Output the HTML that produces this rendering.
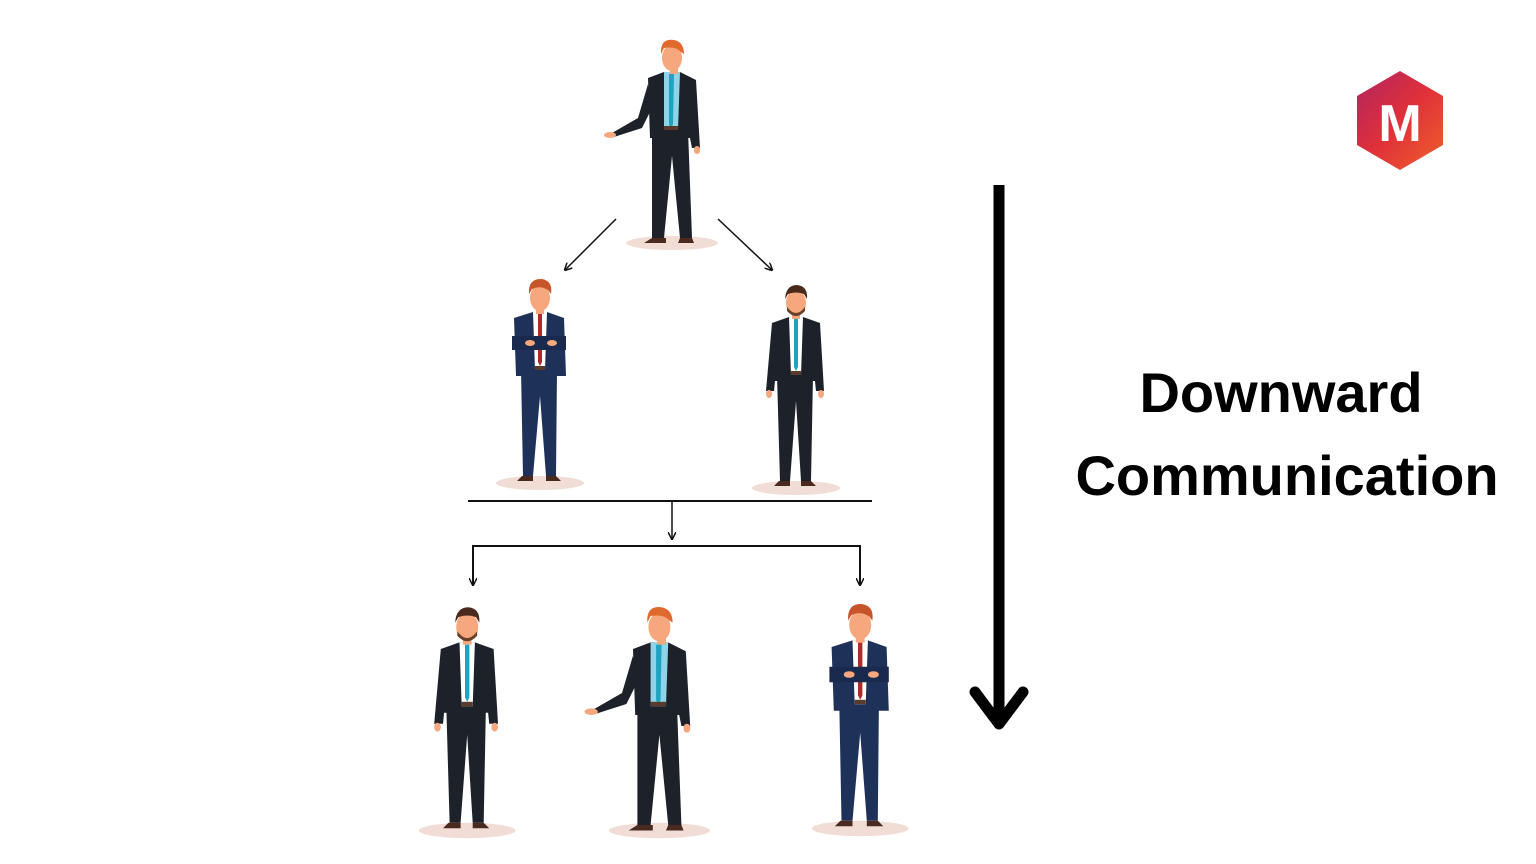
<!DOCTYPE html>
<html><head><meta charset="utf-8"><style>
html,body{margin:0;padding:0;background:#fff;width:1536px;height:864px;overflow:hidden}
svg{display:block}
</style></head><body>
<svg width="1536" height="864" viewBox="0 0 1536 864" xmlns="http://www.w3.org/2000/svg">
<defs>
<linearGradient id="lg" x1="0" y1="0" x2="1" y2="1">
<stop offset="0" stop-color="#b0245e"/><stop offset="0.5" stop-color="#e0303a"/><stop offset="1" stop-color="#f0602a"/>
</linearGradient>
<marker id="ah" markerWidth="8" markerHeight="8" refX="7" refY="4" orient="auto" markerUnits="userSpaceOnUse">
<path d="M0,0 L8,4 L0,8" fill="none" stroke="#111" stroke-width="1.5"/>
</marker>
<!-- pointing person, black suit -->
<g id="pPoint">
<ellipse cx="4" cy="205" rx="46" ry="7" fill="#f1ddd6"/>
<path d="M-16,92 L20,92 L24,200 L12,200 L4,118 L-4,200 L-16,200 Z" fill="#1d2129"/>
<path d="M-16,200 L-2,200 L-2,205 L-24,205 Z M12,200 L24,200 L26,205 L10,205Z" fill="#4a2a1e"/>
<path d="M-20,40 L-4,34 L12,34 L28,42 L32,110 L24,110 L22,100 L-18,100 Z" fill="#1d2129"/>
<path d="M-20,46 L-30,80 L-56,95 L-54,99 L-26,90 L-16,70Z" fill="#1d2129"/>
<ellipse cx="-58" cy="97" rx="6" ry="3" fill="#f6a77d"/>
<path d="M-4,34 L12,34 L10,92 L-4,92 Z" fill="#8fd3e8"/>
<path d="M1,36 L6,36 L5,86 L3,92 L1,86 Z" fill="#1fa3c0"/>
<rect x="-4" y="88" width="14" height="4" fill="#5a3a2a"/>
<rect x="2" y="24" width="8" height="12" fill="#f6a77d"/>
<ellipse cx="4" cy="20" rx="10" ry="13" fill="#f6a77d"/>
<path d="M-7,16 Q-8,0 6,2 Q16,4 16,16 L13,14 Q8,8 -4,10 Z" fill="#e0692e"/>
<rect x="26" y="108" width="6" height="8" rx="3" fill="#f6a77d"/>
</g>
<!-- standing person -->
<g id="pStand">
<ellipse cx="2" cy="205" rx="44" ry="7" fill="#f1ddd6"/>
<path d="M-17,92 L19,92 L17,198 L7,198 L2,118 L-4,198 L-14,198 Z" fill="#1d2129"/>
<path d="M-15,198 L-4,198 L-4,203 L-20,203 Z M7,198 L17,198 L22,203 L7,203Z" fill="#4a2a1e"/>
<path d="M-22,40 L-5,34 L9,34 L26,40 L30,108 L22,108 L21,98 L-19,98 L-20,108 L-28,108 Z" fill="#1d2129"/>
<path d="M-5,34 L9,34 L7,92 L-3,92 Z" fill="#ffffff"/>
<path d="M0,36 L4,36 L4,84 L2,88 L0,84 Z" fill="#1fa3c0"/>
<rect x="-3" y="88" width="10" height="4" fill="#5a3a2a"/>
<ellipse cx="-25" cy="111" rx="3" ry="4" fill="#f6a77d"/><ellipse cx="27" cy="111" rx="3" ry="4" fill="#f6a77d"/>
<rect x="-2" y="24" width="8" height="12" fill="#f6a77d"/>
<ellipse cx="2" cy="20" rx="10" ry="13" fill="#f6a77d"/>
<path d="M-7,24 Q2,36 11,24 L11,28 Q2,38 -7,28Z" fill="#6b4028"/>
<path d="M-9,16 Q-8,2 3,2 Q14,3 13,16 L10,11 Q2,8 -6,11 Z" fill="#4a2a1c"/>
</g>
<!-- crossed arms navy -->
<g id="pCross">
<ellipse cx="2" cy="205" rx="44" ry="7" fill="#f1ddd6"/>
<path d="M-17,92 L19,92 L18,198 L8,198 L2,118 L-5,198 L-15,198 Z" fill="#1e3158"/>
<path d="M-16,198 L-5,198 L-5,203 L-21,203 Z M8,198 L18,198 L23,203 L8,203Z" fill="#4a2a1e"/>
<path d="M-24,40 L-5,34 L9,34 L26,40 L28,98 L-22,98 Z" fill="#1e3158"/>
<path d="M-5,34 L9,34 L7,92 L-3,92 Z" fill="#ffffff"/>
<path d="M0,36 L4,36 L4,84 L2,88 L0,84 Z" fill="#b02a2a"/>
<path d="M-26,58 L28,58 L28,72 L-26,72 Z" fill="#1a2a4e"/>
<ellipse cx="-8" cy="65" rx="5" ry="3" fill="#f6a77d"/><ellipse cx="14" cy="65" rx="5" ry="3" fill="#f6a77d"/>
<rect x="-3" y="88" width="10" height="4" fill="#5a3a2a"/>
<rect x="-2" y="24" width="8" height="12" fill="#f6a77d"/>
<ellipse cx="2" cy="20" rx="10" ry="13" fill="#f6a77d"/>
<path d="M-9,16 Q-10,0 4,1 Q15,3 13,16 L10,12 Q2,7 -6,11 Z" fill="#c8542a"/>
</g>
</defs>

<use href="#pPoint" transform="translate(668,38)"/>
<use href="#pCross" transform="translate(538,278)"/>
<use href="#pStand" transform="translate(794,283)"/>
<use href="#pStand" transform="translate(465,605) scale(1.1)"/>
<use href="#pPoint" transform="translate(655,605) scale(1.1)"/>
<use href="#pCross" transform="translate(858,603) scale(1.1)"/>

<g stroke="#111" stroke-width="1.5" fill="none">
<line x1="616" y1="219" x2="565" y2="270" marker-end="url(#ah)"/>
<line x1="718" y1="219" x2="772" y2="270" marker-end="url(#ah)"/>
<line x1="468" y1="501" x2="872" y2="501" stroke-width="2"/>
<line x1="672" y1="501" x2="672" y2="539" marker-end="url(#ah)"/>
<path d="M473,585 L473,546 L860,546 L860,585" stroke-width="2"/>
<line x1="473" y1="570" x2="473" y2="585" marker-end="url(#ah)"/>
<line x1="860" y1="570" x2="860" y2="585" marker-end="url(#ah)"/>
</g>

<line x1="999" y1="185" x2="999" y2="722" stroke="#000" stroke-width="11"/>
<path d="M975,692 L999,724 L1023,692" fill="none" stroke="#000" stroke-width="11" stroke-linecap="round" stroke-linejoin="round"/>

<text x="1281" y="412" text-anchor="middle" font-family="Liberation Sans, sans-serif" font-weight="bold" font-size="56" fill="#000">Downward</text>
<text x="1287" y="495" text-anchor="middle" font-family="Liberation Sans, sans-serif" font-weight="bold" font-size="56" fill="#000">Communication</text>

<polygon points="1400,71 1443,96 1443,145 1400,170 1357,145 1357,96" fill="url(#lg)"/>
<text x="1400" y="141" text-anchor="middle" font-family="Liberation Sans, sans-serif" font-weight="bold" font-size="52" fill="#fff">M</text>
</svg>
</body></html>
